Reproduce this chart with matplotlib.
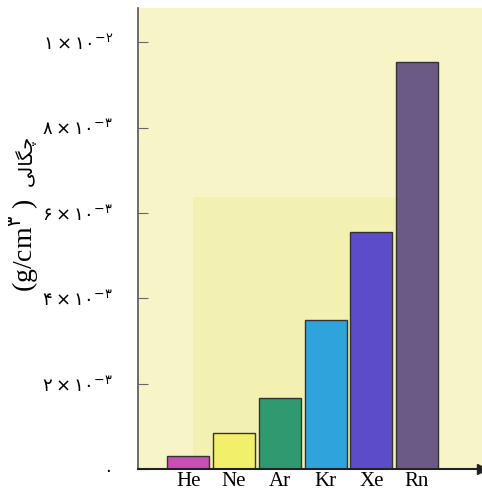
import matplotlib
matplotlib.use("Agg")
import matplotlib.pyplot as plt
from matplotlib.patches import Rectangle

# Data
gases = ["He", "Ne", "Ar", "Kr", "Xe", "Rn"]
density = [0.0003, 0.00084, 0.00166, 0.0035, 0.00556, 0.00954]  # g/cm3
colors = ["#c94fb5", "#f2ef6a", "#2f9a70", "#2ea3dc", "#5d4cc9", "#6b5a86"]

ytick_vals = [0, 0.002, 0.004, 0.006, 0.008, 0.010]
ytick_labels = ["۰",
                "۲\u2009×\u2009۱۰$^{−۳}$",
                "۴\u2009×\u2009۱۰$^{−۳}$",
                "۶\u2009×\u2009۱۰$^{−۳}$",
                "۸\u2009×\u2009۱۰$^{−۳}$",
                "۱\u2009×\u2009۱۰$^{−۲}$"]

# "چگالی" in presentation forms, visual order (matplotlib does no shaping)
chegali = "\uFBFD\uFEDF\uFE8E\uFB95\uFB7C"
unit = "(g/cm$^{۳}$ )"

fig = plt.figure(figsize=(4.82, 4.97), dpi=100)
ax = fig.add_axes([0.286, 0.056, 0.714, 0.928])
ax.set_facecolor("#f7f5c8")

x = list(range(len(gases)))
ax.add_patch(Rectangle((0.1, 0), 4.45, 0.00637, color="#f3f1b2", zorder=0.5, lw=0))
ax.bar(x, density, width=0.92, color=colors, edgecolor="#333333", linewidth=1.0, zorder=2)

ax.set_xlim(-1.105, 6.42)
ax.set_ylim(0, 0.0108)

ax.set_xticks(x)
ax.set_xticklabels(gases, fontfamily="Liberation Serif", fontsize=15)
ax.tick_params(axis="x", length=0, pad=2)

ax.set_yticks(ytick_vals)
ax.set_yticklabels(ytick_labels, fontfamily="DejaVu Sans", fontsize=13)
ax.tick_params(axis="y", direction="in", length=7, color="#666666", pad=18)

for s in ["top", "right"]:
    ax.spines[s].set_visible(False)
ax.spines["left"].set_color("#555555")
ax.spines["bottom"].set_color("#222222")
ax.spines["left"].set_linewidth(1.2)
ax.spines["bottom"].set_linewidth(1.5)
ax.plot(1, 0, ">", color="#222222", markersize=7, transform=ax.transAxes, clip_on=False)

fig.text(0.05, 0.412, unit, rotation=90, ha="center", va="bottom",
         fontsize=20, family=["Liberation Serif", "DejaVu Sans"])
fig.text(0.052, 0.625, chegali, rotation=90, ha="center", va="bottom",
         fontsize=14, family="DejaVu Sans")

fig.savefig("out.png", dpi=100)
